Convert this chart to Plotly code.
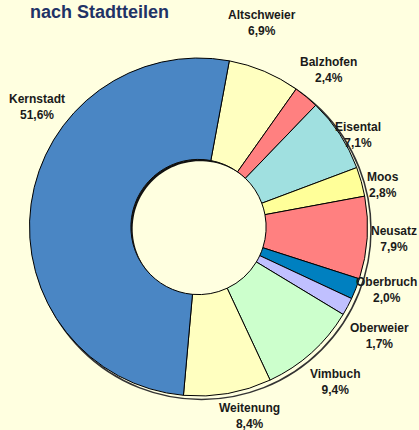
import numpy as np
import plotly.graph_objects as go

# ---- data ----
categories = ["Altschweier", "Balzhofen", "Eisental", "Moos", "Neusatz",
              "Oberbruch", "Oberweier", "Vimbuch", "Weitenung", "Kernstadt"]
shares = [6.9, 2.4, 7.1, 2.8, 7.9, 2.0, 1.7, 9.4, 8.4, 51.6]
title_text = "nach Stadtteilen"

# ---- styles / layout ----
slice_colors = ["#FFFFC0", "#FF8080", "#A0E0E0", "#FFFF99", "#FF8080",
                "#0080C0", "#C0C0FF", "#CCFFCC", "#FFFFC0", "#4A86C4"]
label_px = [(262, 23), (328, 70), (358, 135), (383, 185), (394, 239),
            (386, 290), (379, 336), (335, 382), (250, 416), (37, 107)]
W, H = 419, 430
BG = "#FFFFE0"
cx, cy, R = 198.5, 227.0, 169.0
hole_ratio = 0.40
r_hole = R * hole_ratio


def px(x):
    return x / W


def py(y):
    return 1 - y / H


fig = go.Figure()
fig.add_trace(go.Pie(
    labels=categories,
    values=shares,
    sort=False,
    direction="clockwise",
    rotation=10.5,
    hole=hole_ratio,
    marker=dict(colors=slice_colors, line=dict(color="#000000", width=1)),
    textinfo="none",
    hoverinfo="label+percent",
    showlegend=False,
    domain=dict(x=[px(cx - R), px(cx + R)], y=[py(cy + R), py(cy - R)]),
))

FONT = "Liberation Sans, Arial, sans-serif"
annotations = []
for name, v, (lx, ly) in zip(categories, shares, label_px):
    pct = f"{v:.1f}%".replace(".", ",")
    annotations.append(dict(
        x=px(lx), y=py(ly), xref="paper", yref="paper",
        xanchor="center", yanchor="middle", showarrow=False,
        text=f"<b>{name}</b><br><b>{pct}</b>",
        font=dict(family=FONT, size=12, color="#1A1A1A"),
        align="center",
    ))
annotations.append(dict(
    x=px(28), y=py(12), xref="paper", yref="paper",
    xanchor="left", yanchor="middle", showarrow=False,
    text="<b>" + title_text + "</b>",
    font=dict(family=FONT, size=18, color="#1F3366"),
))

shapes = []
# outer drop shadow (offset down-right)
off = 3
shapes.append(dict(
    type="circle", xref="paper", yref="paper", layer="below",
    x0=px(cx + off - R - 0.5), x1=px(cx + off + R + 0.5),
    y0=py(cy + off + R + 0.5), y1=py(cy + off - R - 0.5),
    fillcolor=BG, line=dict(color="#333333", width=1.5),
))
# inner shadow in the hole (upper-left crescent)
d = 2.5
t = np.linspace(0, np.pi, 60)
base = np.arctan2(1, -1)  # up-left in math coords (y up)
ang = base - np.pi / 2 + t
outer = [(cx + r_hole * np.cos(a), cy - r_hole * np.sin(a)) for a in ang]
sx, sy = cx + d / np.sqrt(2), cy + d / np.sqrt(2)
inner = [(sx + r_hole * np.cos(a), sy - r_hole * np.sin(a)) for a in ang[::-1]]
pts = outer + inner
path = "M " + " L ".join(f"{px(x):.5f},{py(y):.5f}" for x, y in pts) + " Z"
shapes.append(dict(
    type="path", xref="paper", yref="paper", layer="above",
    path=path, fillcolor="#111111", line=dict(width=0),
))

fig.update_layout(
    width=W, height=H,
    margin=dict(l=0, r=0, t=0, b=0),
    paper_bgcolor=BG, plot_bgcolor=BG,
    annotations=annotations,
    shapes=shapes,
    showlegend=False,
)

fig.write_html(
    "out.html",
    config={"displayModeBar": False},
    post_script="document.body.style.margin='0px';"
                "document.body.style.background='" + BG + "';"
                "document.body.style.overflow='hidden';",
)
